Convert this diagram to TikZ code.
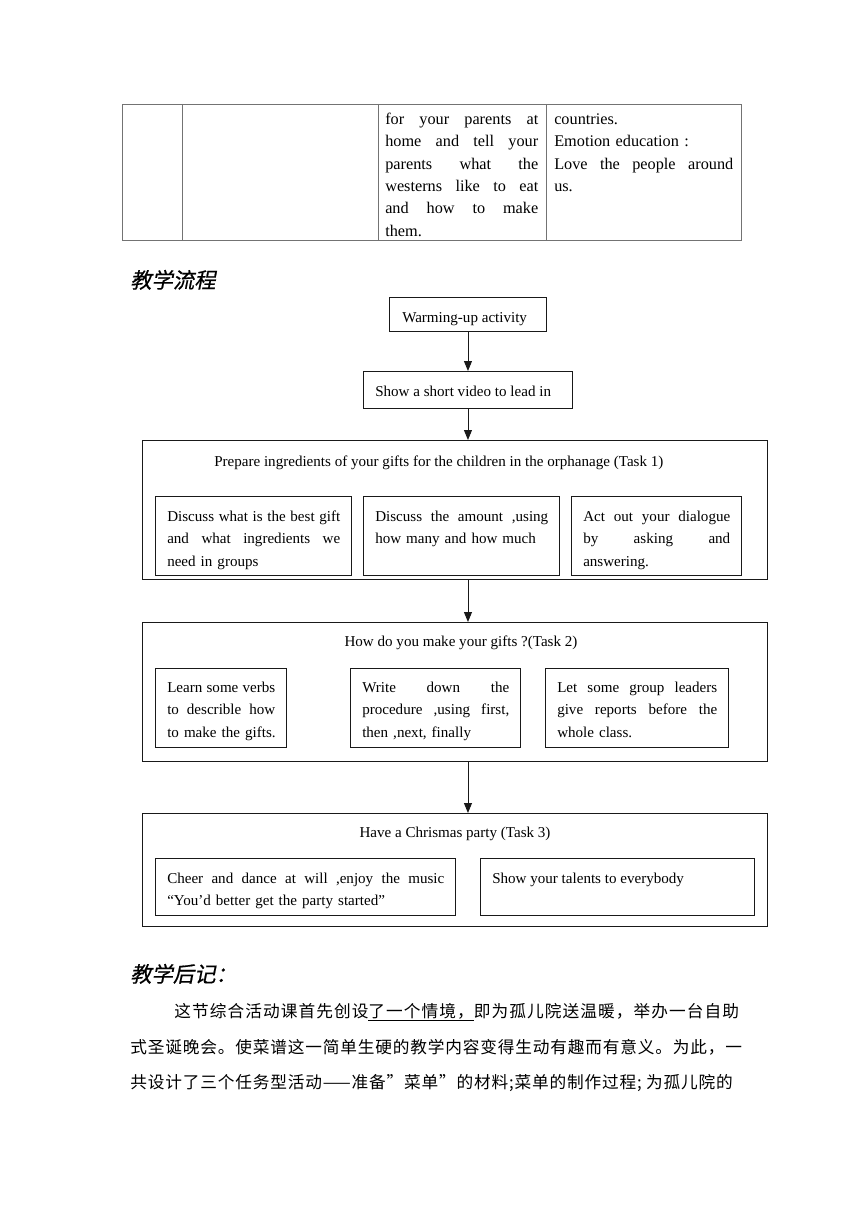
\documentclass[tikz,border=0pt]{standalone}
\usepackage{fontspec}
\setmainfont{Liberation Serif}
\newfontfamily\cjk[LetterSpace=5]{Noto Sans CJK SC}
\newfontfamily\cjkwide[LetterSpace=6.5]{Noto Sans CJK SC}
\newfontfamily\cjkh[FakeSlant=0.2,FakeBold=0.6]{Noto Sans CJK SC}
\usetikzlibrary{arrows.meta}
\newdimen\px \px=0.75pt
\newcommand\jl[2]{\makebox[#1\px][s]{\spaceskip=0.25em plus 1fil minus 0.1em\relax #2}}
\newcommand\fs{\rule{0pt}{9pt}}
\begin{document}
\begin{tikzpicture}[x=0.75pt,y=-0.75pt,
  box/.style={draw=black!90, line width=0.7pt, inner sep=0, anchor=north west},
  tbl/.style={draw=black!55, line width=0.7pt},
  txt/.style={inner sep=0, font=\fontsize{11.3}{16.8}\selectfont, align=left, text width=400\px, anchor=north west, yshift=9pt},
  tbtxt/.style={txt, font=\fontsize{12.2}{16.8}\selectfont},
  one/.style={inner sep=0, font=\fontsize{11.3}{16.8}\selectfont, anchor=base west},
  onec/.style={inner sep=0, font=\fontsize{11.3}{16.8}\selectfont, anchor=base},
  head/.style={inner sep=0, font=\fontsize{16}{18}\cjkh, anchor=base west},
  para/.style={inner sep=0, font=\fontsize{12.5}{16}\cjk, anchor=base west},
  arr/.style={draw=black!90, line width=0.7pt, -{Triangle[length=7.5pt,width=6pt]}}]
\useasboundingbox (0,0) rectangle (860,1216);

% table fragment
\draw[tbl] (122,104) rectangle (741,240);
\draw[tbl] (182,104) -- (182,240);
\draw[tbl] (378,104) -- (378,240);
\draw[tbl] (546,104) -- (546,240);
\node[tbtxt] (c3) at (385,124) {\fs\jl{153}{for your parents at}\\\jl{153}{home and tell your}\\\jl{153}{parents what the}\\\jl{153}{westerns like to eat}\\\jl{153}{and how to make}\\them.};
\node[tbtxt] (c4) at (554,124) {\fs countries.\\Emotion education :\\\jl{179}{Love the people around}\\us.};

% heading
\node[head] (h1) at (130,288) {教学流程};

% top boxes
\node[box, minimum width=157\px, minimum height=34\px] (w) at (389,297) {};
\node[one] (wt) at (402,322) {Warming-up activity};
\node[box, minimum width=209\px, minimum height=37\px] (s) at (363,371) {};
\node[one] (st) at (375,396) {Show a short video to lead in};

% task 1
\node[box, minimum width=625\px, minimum height=139\px] (t1) at (142,440) {};
\node[one] (t1t) at (214,466) {Prepare ingredients of your gifts for the children in the orphanage (Task 1)};
\node[box, minimum width=196\px, minimum height=79\px] (a1) at (155,496) {};
\node[box, minimum width=196\px, minimum height=79\px] (a2) at (363,496) {};
\node[box, minimum width=170\px, minimum height=79\px] (a3) at (571,496) {};
\node[txt] (a1t) at (167,521) {\fs\jl{173}{Discuss what is the best gift}\\\jl{173}{and what ingredients we}\\need in groups};
\node[txt] (a2t) at (375,521) {\fs\jl{173}{Discuss the amount ,using}\\how many and how much};
\node[txt] (a3t) at (583,521) {\fs\jl{147}{Act out your dialogue}\\\jl{147}{by asking and}\\answering.};

% task 2
\node[box, minimum width=625\px, minimum height=139\px] (t2) at (142,622) {};
\node[onec] (t2t) at (461,646) {How do you make your gifts ?(Task 2)};
\node[box, minimum width=131\px, minimum height=79\px] (b1) at (155,668) {};
\node[box, minimum width=170\px, minimum height=79\px] (b2) at (350,668) {};
\node[box, minimum width=183\px, minimum height=79\px] (b3) at (545,668) {};
\node[txt] (b1t) at (167,692) {\fs\jl{108}{Learn some verbs}\\\jl{108}{to describle how}\\to make the gifts.};
\node[txt] (b2t) at (362,692) {\fs\jl{147}{Write down the}\\\jl{147}{procedure ,using first,}\\then ,next, finally};
\node[txt] (b3t) at (557,692) {\fs\jl{160}{Let some group leaders}\\\jl{160}{give reports before the}\\whole class.};

% task 3
\node[box, minimum width=625\px, minimum height=113\px] (t3) at (142,813) {};
\node[onec] (t3t) at (455,837) {Have a Chrismas party (Task 3)};
\node[box, minimum width=300\px, minimum height=57\px] (c1) at (155,858) {};
\node[box, minimum width=274\px, minimum height=57\px] (c2) at (480,858) {};
\node[txt] (c1t) at (167,883) {\fs\jl{277}{Cheer and dance at will ,enjoy the music}\\“You’d better get the party started”};
\node[one] (c2t) at (492,883) {Show your talents to everybody};

% arrows
\draw[arr] (w.south) -- (s.north);
\draw[arr] (s.south) -- (s.south |- t1.north);
\draw[arr] (s.south |- t1.south) -- (s.south |- t2.north);
\draw[arr] (s.south |- t2.south) -- (s.south |- t3.north);

% afterword
\node[head] (h2) at (130,982) {教学后记：};
\node[para, font=\fontsize{12.5}{16}\cjkwide] (p1) at (174,1017) {这节综合活动课首先创设\underline{了一个情境，}即为孤儿院送温暖，举办一台自助};
\node[para] (p2) at (130,1053) {式圣诞晚会。使菜谱这一简单生硬的教学内容变得生动有趣而有意义。为此，一};
\node[para] (p3) at (130,1088) {共设计了三个任务型活动——准备”菜单”的材料;菜单的制作过程; 为孤儿院的};
\end{tikzpicture}
\end{document}
